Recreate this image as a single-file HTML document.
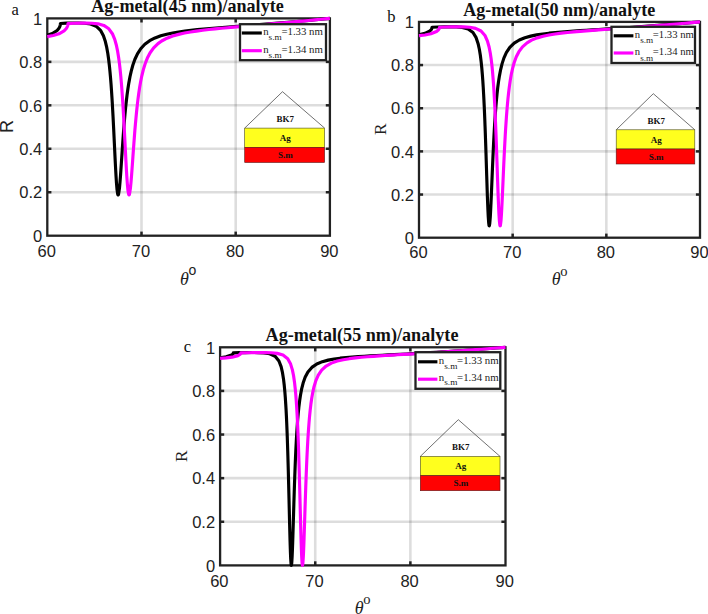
<!DOCTYPE html>
<html lang="en"><head><meta charset="utf-8"><title>SPR reflectance curves</title>
<style>
html,body{margin:0;padding:0;background:#fff}
svg{display:block}
.g{stroke:#000;stroke-opacity:0.135;stroke-width:2.6}
.ax{fill:none;stroke:#222;stroke-width:2.3}
.t{stroke:#222;stroke-width:2.5}
.c{fill:none;stroke-width:3.15;stroke-linejoin:round;stroke-linecap:butt}
.k{stroke:#000}
.m{stroke:#ff00ff}
.tk{font-family:"Liberation Sans",sans-serif;fill:#222}
.ti{font-family:"Liberation Serif",serif;font-weight:bold;font-size:18px;fill:#111}
.pl{font-family:"Liberation Serif",serif;font-size:16.5px;fill:#111}
.yl{font-family:"Liberation Serif",serif;font-size:17.4px;fill:#222}
.yl_s{font-family:"Liberation Sans",sans-serif;font-size:18px;fill:#222}
.xl{font-family:"Liberation Serif",serif;font-size:18px;fill:#222}
.os{font-family:"Liberation Serif",serif;font-size:14.5px}
.os_s{font-family:"Liberation Sans",sans-serif;font-size:14px}
.lg{fill:#fff;stroke:#222;stroke-width:2.3}
.lt{font-family:"Liberation Serif",serif;font-size:10.5px;fill:#222}
.pz{fill:none;stroke:#333;stroke-width:0.7}
.pt{font-family:"Liberation Serif",serif;font-weight:bold;font-size:9px;fill:#111}
</style></head>
<body>
<svg width="708" height="614" viewBox="0 0 708 614">
<rect width="708" height="614" fill="#fff"/>
<line x1="141.50" y1="18.4" x2="141.50" y2="235.7" class="g"/>
<line x1="235.70" y1="18.4" x2="235.70" y2="235.7" class="g"/>
<line x1="47.3" y1="61.86" x2="329.9" y2="61.86" class="g"/>
<line x1="47.3" y1="105.32" x2="329.9" y2="105.32" class="g"/>
<line x1="47.3" y1="148.78" x2="329.9" y2="148.78" class="g"/>
<line x1="47.3" y1="192.24" x2="329.9" y2="192.24" class="g"/>
<rect x="47.3" y="18.4" width="282.60" height="217.30" class="ax"/>
<line x1="141.50" y1="235.7" x2="141.50" y2="231.60" class="t"/>
<line x1="141.50" y1="18.4" x2="141.50" y2="22.50" class="t"/>
<line x1="235.70" y1="235.7" x2="235.70" y2="231.60" class="t"/>
<line x1="235.70" y1="18.4" x2="235.70" y2="22.50" class="t"/>
<line x1="47.3" y1="61.86" x2="51.40" y2="61.86" class="t"/>
<line x1="329.9" y1="61.86" x2="325.80" y2="61.86" class="t"/>
<line x1="47.3" y1="105.32" x2="51.40" y2="105.32" class="t"/>
<line x1="329.9" y1="105.32" x2="325.80" y2="105.32" class="t"/>
<line x1="47.3" y1="148.78" x2="51.40" y2="148.78" class="t"/>
<line x1="329.9" y1="148.78" x2="325.80" y2="148.78" class="t"/>
<line x1="47.3" y1="192.24" x2="51.40" y2="192.24" class="t"/>
<line x1="329.9" y1="192.24" x2="325.80" y2="192.24" class="t"/>
<path d="M47.30,35.23 L53.05,33.18 L57.10,30.49 L58.79,28.55 L59.64,27.03 L60.02,26.02 L60.21,25.28 L60.30,24.73 L60.39,23.55 L66.42,23.15 L72.45,22.99 L78.48,22.97 L84.51,23.22 L90.49,24.06 L96.09,26.22 L100.51,30.32 L103.43,35.70 L105.36,41.52 L106.73,47.40 L107.81,53.55 L108.66,59.54 L109.36,65.52 L109.97,71.54 L110.54,77.88 L111.06,84.42 L111.53,91.02 L111.95,97.51 L112.33,103.72 L112.70,110.34 L113.03,116.45 L113.36,122.83 L113.69,129.44 L114.02,136.23 L114.35,143.12 L114.68,150.03 L115.01,156.86 L115.34,163.49 L115.67,169.79 L116.05,176.43 L116.47,182.95 L116.99,189.21 L117.69,194.15 L117.98,194.90 L118.12,195.01 L118.26,194.94 L118.54,194.30 L119.44,188.35 L120.00,182.16 L120.47,176.03 L120.89,170.03 L121.32,163.76 L121.74,157.39 L122.17,151.04 L122.59,144.82 L123.01,138.78 L123.48,132.36 L123.95,126.29 L124.47,120.02 L125.04,113.68 L125.65,107.40 L126.31,101.28 L127.06,95.02 L127.91,88.83 L128.85,82.86 L129.98,76.77 L131.30,70.86 L132.90,65.04 L134.92,59.27 L137.46,53.81 L140.71,48.75 L144.81,44.30 L149.65,40.69 L155.02,37.92 L160.81,35.80 L166.75,34.19 L172.69,32.94 L178.62,31.94 L184.85,31.07 L191.07,30.32 L197.29,29.66 L203.51,29.07 L209.73,28.52 L215.95,28.00 L222.17,27.50 L228.39,27.02 L234.61,26.54 L240.83,26.06 L247.05,25.58 L253.27,25.09 L259.49,24.60 L265.71,24.10 L271.93,23.59 L278.16,23.07 L284.38,22.54 L290.60,22.00 L296.82,21.45 L303.04,20.89 L309.26,20.32 L315.48,19.75 L321.70,19.17 L327.92,18.59 L329.90,18.40" class="c k"/>
<path d="M47.30,36.62 L53.23,35.56 L58.98,33.80 L64.07,30.90 L66.14,28.77 L67.08,27.21 L67.55,26.02 L67.74,25.29 L67.84,24.76 L67.93,23.60 L73.96,23.21 L79.99,23.06 L86.02,23.02 L92.04,23.20 L98.02,23.82 L103.81,25.43 L108.84,28.80 L112.38,33.71 L114.73,39.37 L116.38,45.26 L117.60,51.16 L118.59,57.20 L119.44,63.51 L120.14,69.72 L120.75,75.90 L121.32,82.36 L121.84,88.94 L122.31,95.52 L122.73,101.93 L123.11,108.01 L123.48,114.44 L123.86,121.19 L124.19,127.32 L124.52,133.63 L124.85,140.05 L125.18,146.52 L125.51,152.97 L125.84,159.30 L126.17,165.42 L126.54,172.02 L126.92,178.03 L127.39,184.49 L128.00,190.74 L128.61,194.19 L128.90,194.80 L129.04,194.87 L129.18,194.79 L129.51,194.04 L130.45,187.96 L131.06,181.58 L131.58,175.19 L132.05,168.88 L132.52,162.32 L132.94,156.33 L133.42,149.72 L133.89,143.27 L134.36,137.03 L134.87,130.49 L135.39,124.32 L135.96,118.04 L136.57,111.75 L137.23,105.56 L137.93,99.57 L138.73,93.50 L139.63,87.53 L140.66,81.54 L141.89,75.53 L143.35,69.60 L145.14,63.75 L147.35,58.10 L150.13,52.77 L153.66,47.86 L157.99,43.64 L161.66,41.02 L167.03,38.21 L172.69,36.07 L178.62,34.38 L184.56,33.06 L190.50,31.98 L196.44,31.08 L202.66,30.27 L208.88,29.55 L215.10,28.89 L221.32,28.28 L227.54,27.70 L233.76,27.14 L239.98,26.60 L246.20,26.06 L252.42,25.53 L258.65,24.99 L264.87,24.45 L271.09,23.91 L277.31,23.36 L283.53,22.80 L289.75,22.23 L295.97,21.66 L302.19,21.07 L308.41,20.48 L314.63,19.88 L320.85,19.28 L327.07,18.68 L329.90,18.40" class="c m"/>
<text transform="translate(46.70,256.50) scale(1.0,1)" class="tk" font-size="16.5" text-anchor="middle">60</text>
<text transform="translate(140.90,256.50) scale(1.0,1)" class="tk" font-size="16.5" text-anchor="middle">70</text>
<text transform="translate(235.10,256.50) scale(1.0,1)" class="tk" font-size="16.5" text-anchor="middle">80</text>
<text transform="translate(329.30,256.50) scale(1.0,1)" class="tk" font-size="16.5" text-anchor="middle">90</text>
<text transform="translate(42.3,24.60) scale(1.0,1)" class="tk" font-size="16.5" text-anchor="end">1</text>
<text transform="translate(42.3,68.06) scale(1.0,1)" class="tk" font-size="16.5" text-anchor="end">0.8</text>
<text transform="translate(42.3,111.52) scale(1.0,1)" class="tk" font-size="16.5" text-anchor="end">0.6</text>
<text transform="translate(42.3,154.98) scale(1.0,1)" class="tk" font-size="16.5" text-anchor="end">0.4</text>
<text transform="translate(42.3,198.44) scale(1.0,1)" class="tk" font-size="16.5" text-anchor="end">0.2</text>
<text transform="translate(42.3,241.90) scale(1.0,1)" class="tk" font-size="16.5" text-anchor="end">0</text>
<text transform="translate(187.50,12.1) scale(1.006,1)" class="ti" text-anchor="middle">Ag-metal(45 nm)/analyte</text>
<text x="11.6" y="14.8" class="pl">a</text>
<text transform="translate(12.9,126.6) rotate(-90)" class="yl_s" text-anchor="middle">R</text>
<text x="180" y="284.7" class="xl"><tspan font-style="italic">θ</tspan><tspan dy="-9.3" dx="-0.3" class="os_s">o</tspan></text>
<rect x="240" y="24.2" width="86.00" height="36.00" class="lg"/>
<line x1="241.8" y1="33.0" x2="261.8" y2="33.0" class="c k" style="stroke-linecap:butt"/>
<text transform="translate(263.20,35.30) scale(1.03,1)" class="lt">n<tspan dy="4.9" dx="0" font-size="9">s.m</tspan><tspan dy="-4.9" dx="-0.3">=1.33 nm</tspan></text>
<line x1="241.8" y1="50.7" x2="261.8" y2="50.7" class="c m" style="stroke-linecap:butt"/>
<text transform="translate(263.20,53.00) scale(1.03,1)" class="lt">n<tspan dy="4.9" dx="0" font-size="9">s.m</tspan><tspan dy="-4.9" dx="-0.3">=1.34 nm</tspan></text>
<path d="M244.7,128.1 L282.5,91.7 L324.6,128.1" class="pz"/>
<rect x="244.7" y="128.1" width="79.90" height="19.20" fill="#ffff1e" stroke="#4a4a20" stroke-width="0.6"/>
<rect x="244.7" y="147.3" width="79.90" height="15.20" fill="#ff0202" stroke="#5a1a1a" stroke-width="0.6"/>
<text x="285.35" y="121.90" class="pt" text-anchor="middle">BK7</text>
<text x="285.35" y="141.10" class="pt" text-anchor="middle">Ag</text>
<text x="285.35" y="158.00" class="pt" text-anchor="middle">S.m</text>
<line x1="512.67" y1="21.9" x2="512.67" y2="237.7" class="g"/>
<line x1="606.33" y1="21.9" x2="606.33" y2="237.7" class="g"/>
<line x1="419.0" y1="65.06" x2="700.0" y2="65.06" class="g"/>
<line x1="419.0" y1="108.22" x2="700.0" y2="108.22" class="g"/>
<line x1="419.0" y1="151.38" x2="700.0" y2="151.38" class="g"/>
<line x1="419.0" y1="194.54" x2="700.0" y2="194.54" class="g"/>
<rect x="419.0" y="21.9" width="281.00" height="215.80" class="ax"/>
<line x1="512.67" y1="237.7" x2="512.67" y2="233.60" class="t"/>
<line x1="512.67" y1="21.9" x2="512.67" y2="26.00" class="t"/>
<line x1="606.33" y1="237.7" x2="606.33" y2="233.60" class="t"/>
<line x1="606.33" y1="21.9" x2="606.33" y2="26.00" class="t"/>
<line x1="419.0" y1="65.06" x2="423.10" y2="65.06" class="t"/>
<line x1="700.0" y1="65.06" x2="695.90" y2="65.06" class="t"/>
<line x1="419.0" y1="108.22" x2="423.10" y2="108.22" class="t"/>
<line x1="700.0" y1="108.22" x2="695.90" y2="108.22" class="t"/>
<line x1="419.0" y1="151.38" x2="423.10" y2="151.38" class="t"/>
<line x1="700.0" y1="151.38" x2="695.90" y2="151.38" class="t"/>
<line x1="419.0" y1="194.54" x2="423.10" y2="194.54" class="t"/>
<line x1="700.0" y1="194.54" x2="695.90" y2="194.54" class="t"/>
<path d="M419.00,34.76 L424.90,33.37 L429.49,31.21 L430.99,29.85 L431.55,29.01 L431.83,28.35 L431.93,28.00 L432.02,27.24 L438.01,26.95 L444.10,26.82 L450.19,26.78 L456.28,26.90 L462.27,27.42 L468.12,28.96 L472.99,32.48 L476.12,37.67 L478.04,43.38 L479.35,49.27 L480.34,55.31 L481.13,61.61 L481.79,68.01 L482.35,74.58 L482.82,80.95 L483.24,87.49 L483.61,94.01 L483.94,100.31 L484.27,107.19 L484.55,113.59 L484.83,120.44 L485.06,126.49 L485.30,132.85 L485.53,139.50 L485.77,146.40 L486.00,153.53 L486.23,160.82 L486.47,168.20 L486.70,175.60 L486.94,182.92 L487.17,190.03 L487.40,196.83 L487.64,203.19 L487.92,210.04 L488.25,216.71 L488.67,222.76 L489.04,225.47 L489.18,225.81 L489.28,225.84 L489.42,225.58 L489.79,223.23 L490.31,216.54 L490.68,209.71 L491.01,202.79 L491.29,196.37 L491.57,189.69 L491.85,182.89 L492.13,176.07 L492.41,169.34 L492.69,162.77 L492.97,156.41 L493.25,150.29 L493.58,143.50 L493.91,137.10 L494.24,131.10 L494.61,124.71 L495.03,118.10 L495.45,112.08 L495.92,106.02 L496.44,100.04 L497.05,93.80 L497.75,87.55 L498.54,81.52 L499.48,75.58 L500.65,69.53 L502.10,63.63 L503.97,57.88 L506.45,52.40 L509.82,47.35 L514.18,43.15 L519.32,39.99 L524.89,37.74 L530.70,36.12 L536.65,34.91 L542.83,33.96 L549.02,33.19 L555.20,32.56 L561.39,32.01 L567.58,31.52 L573.76,31.08 L579.95,30.66 L586.13,30.26 L592.32,29.86 L598.50,29.47 L604.69,29.09 L610.87,28.69 L617.06,28.29 L623.24,27.88 L629.43,27.46 L635.62,27.03 L641.80,26.59 L647.99,26.13 L654.17,25.66 L660.36,25.18 L666.54,24.69 L672.73,24.19 L678.91,23.68 L685.10,23.17 L691.28,22.64 L697.47,22.12 L700.00,21.90" class="c k"/>
<path d="M419.00,35.67 L424.99,34.97 L430.90,33.77 L436.52,31.49 L438.30,30.05 L438.95,29.18 L439.23,28.62 L439.42,28.03 L439.51,27.29 L445.51,27.01 L451.60,26.88 L457.64,26.83 L463.67,26.91 L469.67,27.28 L475.61,28.34 L481.04,30.96 L484.97,35.50 L487.45,41.09 L489.09,47.02 L490.26,53.03 L491.15,59.01 L491.90,65.29 L492.51,71.44 L493.02,77.51 L493.49,83.84 L493.91,90.27 L494.28,96.63 L494.61,102.73 L494.94,109.35 L495.22,115.45 L495.50,121.96 L495.78,128.86 L496.02,134.90 L496.25,141.18 L496.48,147.68 L496.72,154.37 L496.95,161.19 L497.19,168.10 L497.42,175.02 L497.65,181.87 L497.89,188.57 L498.12,195.01 L498.36,201.09 L498.64,207.77 L498.96,214.48 L499.39,221.02 L499.85,225.11 L500.04,225.75 L500.13,225.86 L500.23,225.83 L500.42,225.35 L500.98,220.85 L501.45,214.13 L501.82,207.32 L502.15,200.63 L502.43,194.53 L502.71,188.24 L502.99,181.85 L503.27,175.48 L503.55,169.18 L503.83,163.03 L504.16,156.08 L504.49,149.42 L504.82,143.10 L505.19,136.28 L505.56,129.92 L505.99,123.29 L506.41,117.20 L506.87,111.02 L507.39,104.89 L507.95,98.90 L508.61,92.74 L509.36,86.64 L510.24,80.48 L511.27,74.54 L512.54,68.62 L514.13,62.76 L516.19,57.06 L518.90,51.68 L522.51,46.82 L527.05,42.83 L531.59,40.16 L537.21,37.88 L543.11,36.21 L549.02,34.97 L555.20,33.97 L561.39,33.15 L567.58,32.47 L573.76,31.87 L579.95,31.34 L586.13,30.84 L592.32,30.37 L598.50,29.92 L604.69,29.47 L610.87,29.03 L617.06,28.59 L623.24,28.15 L629.43,27.70 L635.62,27.24 L641.80,26.77 L647.99,26.29 L654.17,25.80 L660.36,25.30 L666.54,24.79 L672.73,24.27 L678.91,23.74 L685.10,23.21 L691.28,22.67 L697.47,22.12 L700.00,21.90" class="c m"/>
<text transform="translate(418.50,258.40) scale(1.0,1)" class="tk" font-size="16.5" text-anchor="middle">60</text>
<text transform="translate(512.17,258.40) scale(1.0,1)" class="tk" font-size="16.5" text-anchor="middle">70</text>
<text transform="translate(605.83,258.40) scale(1.0,1)" class="tk" font-size="16.5" text-anchor="middle">80</text>
<text transform="translate(699.50,258.40) scale(1.0,1)" class="tk" font-size="16.5" text-anchor="middle">90</text>
<text transform="translate(414.0,28.10) scale(1.0,1)" class="tk" font-size="16.5" text-anchor="end">1</text>
<text transform="translate(414.0,71.26) scale(1.0,1)" class="tk" font-size="16.5" text-anchor="end">0.8</text>
<text transform="translate(414.0,114.42) scale(1.0,1)" class="tk" font-size="16.5" text-anchor="end">0.6</text>
<text transform="translate(414.0,157.58) scale(1.0,1)" class="tk" font-size="16.5" text-anchor="end">0.4</text>
<text transform="translate(414.0,200.74) scale(1.0,1)" class="tk" font-size="16.5" text-anchor="end">0.2</text>
<text transform="translate(414.0,243.90) scale(1.0,1)" class="tk" font-size="16.5" text-anchor="end">0</text>
<text transform="translate(559.20,15.5) scale(1.004,1)" class="ti" text-anchor="middle">Ag-metal(50 nm)/analyte</text>
<text x="387.2" y="21.9" class="pl">b</text>
<text transform="translate(386.3,129.3) rotate(-90)" class="yl" text-anchor="middle">R</text>
<text x="551.7" y="284.9" class="xl"><tspan font-style="italic">θ</tspan><tspan dy="-9.3" dx="-0.3" class="os">o</tspan></text>
<rect x="611.5" y="26.8" width="83.50" height="36.20" class="lg"/>
<line x1="613.7" y1="35.8" x2="633.4" y2="35.8" class="c k" style="stroke-linecap:butt"/>
<text transform="translate(634.80,38.10) scale(1.018,1)" class="lt">n<tspan dy="5.2" dx="0" font-size="9">s.m</tspan><tspan dy="-5.2" dx="-0.3">=1.33 nm</tspan></text>
<line x1="613.7" y1="53" x2="633.4" y2="53" class="c m" style="stroke-linecap:butt"/>
<text transform="translate(634.80,55.30) scale(1.018,1)" class="lt">n<tspan dy="5.2" dx="0" font-size="9">s.m</tspan><tspan dy="-5.2" dx="-0.3">=1.34 nm</tspan></text>
<path d="M616.2,129.8 L653.3,93.7 L694.8,129.8" class="pz"/>
<rect x="616.2" y="129.8" width="78.60" height="19.20" fill="#ffff1e" stroke="#4a4a20" stroke-width="0.6"/>
<rect x="616.2" y="149.0" width="78.60" height="15.00" fill="#ff0202" stroke="#5a1a1a" stroke-width="0.6"/>
<text x="656.20" y="123.60" class="pt" text-anchor="middle">BK7</text>
<text x="656.20" y="142.80" class="pt" text-anchor="middle">Ag</text>
<text x="656.20" y="159.60" class="pt" text-anchor="middle">S.m</text>
<line x1="315.23" y1="347.3" x2="315.23" y2="565.4" class="g"/>
<line x1="410.37" y1="347.3" x2="410.37" y2="565.4" class="g"/>
<line x1="220.1" y1="390.92" x2="505.5" y2="390.92" class="g"/>
<line x1="220.1" y1="434.54" x2="505.5" y2="434.54" class="g"/>
<line x1="220.1" y1="478.16" x2="505.5" y2="478.16" class="g"/>
<line x1="220.1" y1="521.78" x2="505.5" y2="521.78" class="g"/>
<rect x="220.1" y="347.3" width="285.40" height="218.10" class="ax"/>
<line x1="315.23" y1="565.4" x2="315.23" y2="561.30" class="t"/>
<line x1="315.23" y1="347.3" x2="315.23" y2="351.40" class="t"/>
<line x1="410.37" y1="565.4" x2="410.37" y2="561.30" class="t"/>
<line x1="410.37" y1="347.3" x2="410.37" y2="351.40" class="t"/>
<line x1="220.1" y1="390.92" x2="224.20" y2="390.92" class="t"/>
<line x1="505.5" y1="390.92" x2="501.40" y2="390.92" class="t"/>
<line x1="220.1" y1="434.54" x2="224.20" y2="434.54" class="t"/>
<line x1="505.5" y1="434.54" x2="501.40" y2="434.54" class="t"/>
<line x1="220.1" y1="478.16" x2="224.20" y2="478.16" class="t"/>
<line x1="505.5" y1="478.16" x2="501.40" y2="478.16" class="t"/>
<line x1="220.1" y1="521.78" x2="224.20" y2="521.78" class="t"/>
<line x1="505.5" y1="521.78" x2="501.40" y2="521.78" class="t"/>
<path d="M220.10,357.76 L226.09,356.85 L231.42,355.11 L232.66,354.22 L233.04,353.75 L233.23,353.36 L233.32,352.86 L239.41,352.66 L245.50,352.56 L251.59,352.51 L257.68,352.56 L263.72,352.84 L269.66,353.73 L275.12,356.23 L278.93,360.95 L281.11,366.66 L282.49,372.64 L283.49,378.91 L284.25,385.30 L284.82,391.33 L285.30,397.38 L285.72,403.78 L286.11,410.38 L286.44,416.94 L286.72,423.21 L287.01,430.16 L287.25,436.48 L287.48,443.32 L287.72,450.69 L287.91,456.96 L288.10,463.58 L288.29,470.51 L288.48,477.75 L288.67,485.24 L288.86,492.95 L289.05,500.81 L289.24,508.73 L289.43,516.61 L289.62,524.35 L289.81,531.80 L290.00,538.84 L290.19,545.31 L290.43,552.39 L290.72,559.06 L291.10,564.33 L291.24,565.15 L291.33,565.34 L291.38,565.33 L291.48,565.11 L291.76,562.82 L292.14,556.42 L292.43,549.60 L292.67,542.93 L292.90,535.63 L293.09,529.49 L293.28,523.20 L293.47,516.84 L293.66,510.48 L293.85,504.20 L294.04,498.04 L294.23,492.05 L294.47,484.82 L294.71,477.93 L294.95,471.39 L295.18,465.22 L295.47,458.29 L295.76,451.87 L296.09,445.00 L296.42,438.74 L296.80,432.28 L297.23,425.81 L297.70,419.48 L298.23,413.43 L298.84,407.30 L299.61,401.01 L300.51,394.93 L301.65,388.89 L303.12,383.01 L305.12,377.32 L307.92,372.01 L311.87,367.40 L316.81,363.99 L322.38,361.67 L328.18,360.12 L334.12,359.01 L340.16,358.19 L346.16,357.55 L352.15,357.04 L358.15,356.60 L364.15,356.21 L370.15,355.86 L376.14,355.53 L382.14,355.21 L388.14,354.90 L394.13,354.60 L400.13,354.29 L406.13,353.98 L412.12,353.66 L418.12,353.33 L424.12,353.00 L430.11,352.65 L436.11,352.29 L442.11,351.91 L448.10,351.53 L454.10,351.13 L460.10,350.71 L466.09,350.29 L472.09,349.86 L478.09,349.41 L484.08,348.96 L490.08,348.50 L496.08,348.04 L502.07,347.57 L505.50,347.30" class="c k"/>
<path d="M220.10,358.36 L226.09,357.92 L232.09,357.15 L237.99,355.61 L239.98,354.49 L240.55,353.92 L240.74,353.61 L240.84,353.39 L240.93,352.91 L247.02,352.71 L253.11,352.62 L259.15,352.56 L265.19,352.59 L271.23,352.78 L277.22,353.38 L283.02,355.05 L287.72,358.80 L290.62,364.11 L292.38,369.89 L293.57,375.79 L294.47,381.93 L295.18,388.20 L295.76,394.37 L296.23,400.50 L296.66,406.93 L297.04,413.47 L297.37,419.93 L297.66,426.05 L297.94,432.78 L298.18,438.86 L298.42,445.39 L298.65,452.39 L298.89,459.85 L299.08,466.15 L299.27,472.71 L299.46,479.53 L299.65,486.57 L299.84,493.79 L300.03,501.12 L300.22,508.51 L300.41,515.87 L300.60,523.11 L300.79,530.13 L300.98,536.82 L301.17,543.04 L301.41,550.01 L301.70,556.89 L302.08,563.04 L302.32,564.94 L302.41,565.27 L302.46,565.34 L302.51,565.35 L302.60,565.19 L302.84,563.75 L303.31,556.88 L303.60,550.66 L303.84,544.58 L304.07,537.89 L304.31,530.80 L304.55,523.47 L304.79,516.04 L305.02,508.64 L305.26,501.36 L305.50,494.26 L305.74,487.42 L305.98,480.85 L306.21,474.58 L306.50,467.49 L306.78,460.84 L307.07,454.65 L307.40,447.98 L307.73,441.86 L308.11,435.50 L308.54,429.08 L309.02,422.75 L309.54,416.64 L310.16,410.42 L310.87,404.33 L311.73,398.28 L312.77,392.32 L314.10,386.42 L315.86,380.65 L318.29,375.10 L321.66,370.09 L326.13,366.02 L331.41,363.12 L337.31,361.07 L343.30,359.68 L349.30,358.68 L355.30,357.91 L361.29,357.29 L367.29,356.76 L373.29,356.31 L379.28,355.89 L385.28,355.51 L391.28,355.14 L397.27,354.79 L403.27,354.44 L409.27,354.09 L415.26,353.73 L421.26,353.37 L427.26,353.01 L433.25,352.63 L439.25,352.24 L445.25,351.84 L451.24,351.43 L457.24,351.01 L463.24,350.58 L469.23,350.14 L475.23,349.69 L481.23,349.23 L487.22,348.76 L493.22,348.28 L499.22,347.80 L505.21,347.32 L505.50,347.30" class="c m"/>
<text transform="translate(219.30,586.50) scale(1.0,1)" class="tk" font-size="16.5" text-anchor="middle">60</text>
<text transform="translate(314.43,586.50) scale(1.0,1)" class="tk" font-size="16.5" text-anchor="middle">70</text>
<text transform="translate(409.57,586.50) scale(1.0,1)" class="tk" font-size="16.5" text-anchor="middle">80</text>
<text transform="translate(504.70,586.50) scale(1.0,1)" class="tk" font-size="16.5" text-anchor="middle">90</text>
<text transform="translate(215.1,353.50) scale(1.0,1)" class="tk" font-size="16.5" text-anchor="end">1</text>
<text transform="translate(215.1,397.12) scale(1.0,1)" class="tk" font-size="16.5" text-anchor="end">0.8</text>
<text transform="translate(215.1,440.74) scale(1.0,1)" class="tk" font-size="16.5" text-anchor="end">0.6</text>
<text transform="translate(215.1,484.36) scale(1.0,1)" class="tk" font-size="16.5" text-anchor="end">0.4</text>
<text transform="translate(215.1,527.98) scale(1.0,1)" class="tk" font-size="16.5" text-anchor="end">0.2</text>
<text transform="translate(215.1,571.60) scale(1.0,1)" class="tk" font-size="16.5" text-anchor="end">0</text>
<text transform="translate(362.00,341.4) scale(1.008,1)" class="ti" text-anchor="middle">Ag-metal(55 nm)/analyte</text>
<text x="183.8" y="352.1" class="pl">c</text>
<text transform="translate(187,456.3) rotate(-90)" class="yl" text-anchor="middle">R</text>
<text x="354.8" y="613.6" class="xl"><tspan font-style="italic">θ</tspan><tspan dy="-9.3" dx="-0.3" class="os">o</tspan></text>
<rect x="415.5" y="352.2" width="84.80" height="36.60" class="lg"/>
<line x1="418.0" y1="361.8" x2="437.4" y2="361.8" class="c k" style="stroke-linecap:butt"/>
<text transform="translate(438.80,363.70) scale(1.032,1)" class="lt">n<tspan dy="4.85" dx="0" font-size="9">s.m</tspan><tspan dy="-4.85" dx="-0.3">=1.33 nm</tspan></text>
<line x1="418.0" y1="379.2" x2="437.4" y2="379.2" class="c m" style="stroke-linecap:butt"/>
<text transform="translate(438.80,380.60) scale(1.032,1)" class="lt">n<tspan dy="4.85" dx="0" font-size="9">s.m</tspan><tspan dy="-4.85" dx="-0.3">=1.34 nm</tspan></text>
<path d="M420.3,456.4 L458.3,419.7 L500,456.4" class="pz"/>
<rect x="420.3" y="456.4" width="79.70" height="19.30" fill="#ffff1e" stroke="#4a4a20" stroke-width="0.6"/>
<rect x="420.3" y="475.7" width="79.70" height="15.00" fill="#ff0202" stroke="#5a1a1a" stroke-width="0.6"/>
<text x="460.85" y="450.20" class="pt" text-anchor="middle">BK7</text>
<text x="460.85" y="469.45" class="pt" text-anchor="middle">Ag</text>
<text x="460.85" y="486.30" class="pt" text-anchor="middle">S.m</text>
</svg>
</body></html>
